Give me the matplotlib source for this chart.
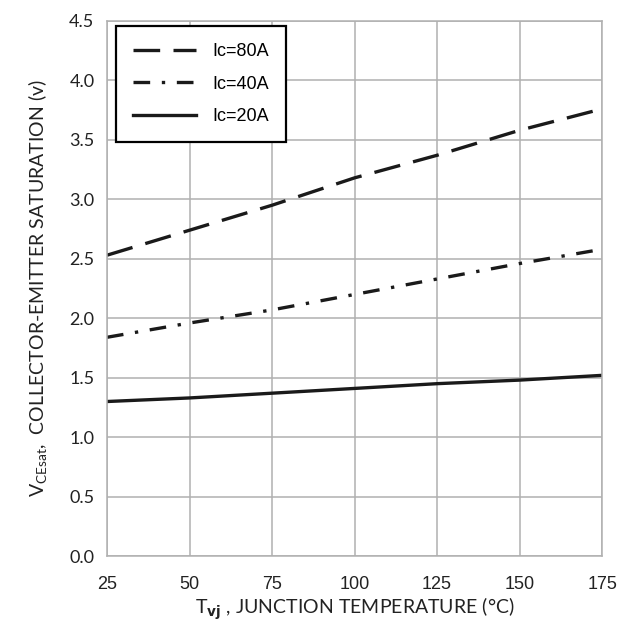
import numpy as np
import matplotlib
matplotlib.use('Agg')
import matplotlib.pyplot as plt

temp = [25, 50, 75, 100, 125, 150, 175]
ic80 = [2.53, 2.74, 2.95, 3.18, 3.37, 3.58, 3.76]
ic40 = [1.84, 1.96, 2.07, 2.20, 2.33, 2.46, 2.58]
ic20 = [1.30, 1.33, 1.37, 1.41, 1.45, 1.48, 1.52]

xticks = [25, 50, 75, 100, 125, 150, 175]
yticks = np.arange(0, 4.51, 0.5)

fig = plt.figure(figsize=(6.22, 6.32), dpi=100)
ax = fig.add_axes([0.172, 0.120, 0.796, 0.847])

ax.plot(temp, ic80, color='#1a1a1a', lw=2.4, dashes=(8, 4), label='Ic=80A')
ax.plot(temp, ic40, color='#1a1a1a', lw=2.4, dashes=(5, 3.5, 1, 3.5), label='Ic=40A')
ax.plot(temp, ic20, color='#1a1a1a', lw=2.4, label='Ic=20A')

ax.set_xlim(25, 175)
ax.set_ylim(0, 4.5)
ax.set_xticks(xticks)
ax.set_yticks(yticks)
ax.set_yticklabels(['%.1f' % v for v in yticks], family='Lato', fontsize=13, color='#222222')
ax.set_xticklabels([str(t) for t in xticks], family='Liberation Sans', fontsize=13, color='#222222')
ax.tick_params(axis='y', length=0, pad=9)
ax.tick_params(axis='x', length=0, pad=14)
ax.grid(True, color='#b0b0b0', lw=1.1)
for s in ax.spines.values():
    s.set_color('#b0b0b0')
    s.set_linewidth(1.1)

ax.set_xlabel(r'T$_{\mathbf{vj}}$ , JUNCTION TEMPERATURE (°C)', family='Lato',
              fontsize=14, color='#222222', labelpad=2)
ax.set_ylabel(r'V$_{\mathregular{CEsat}}$,  COLLECTOR-EMITTER SATURATION (v)', family='Lato',
              fontsize=14, color='#222222', labelpad=14)

leg = ax.legend(loc='upper left', bbox_to_anchor=(0.018, 0.99), fancybox=False,
                edgecolor='black', framealpha=1, handlelength=3.5, handletextpad=0.9,
                borderpad=0.95, labelspacing=0.85, borderaxespad=0,
                prop={'family': 'Liberation Sans', 'size': 13})
leg.get_frame().set_linewidth(1.6)

fig.savefig('out.png', dpi=100)
